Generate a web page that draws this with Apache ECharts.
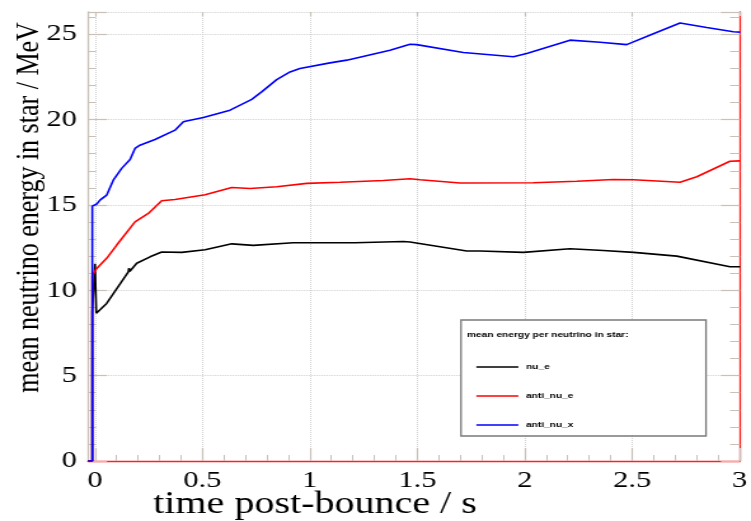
<!DOCTYPE html>
<html>
<head>
<meta charset="utf-8">
<script src="https://cdn.jsdelivr.net/npm/echarts@6/dist/echarts.min.js"></script>
<style>
  html, body { margin: 0; padding: 0; background: #fff; overflow: hidden; }
  /* the plot is laid out on a narrower canvas and widened horizontally */
  #chart { width: 591px; height: 521px; transform: scaleX(1.270728); transform-origin: 0 0; }
</style>
</head>
<body>
<div id="chart"></div>
<script>
// time post-bounce (s) and mean neutrino energy (MeV) for each species
const tNuE = [-0.0326, -0.0126, -0.0126, -0.003, 0.0, 0.006, 0.0126, 0.054, 0.155, 0.158, 0.161, 0.194, 0.256, 0.31, 0.403, 0.512, 0.636, 0.736, 0.922, 1.209, 1.434, 1.465, 1.729, 1.791, 1.992, 2.209, 2.364, 2.505, 2.706, 2.953, 3.0];
const eNuE = [0, 0, 8.74, 8.75, 11.55, 8.65, 8.68, 9.23, 11.08, 11.3, 11.1, 11.58, 11.96, 12.24, 12.22, 12.37, 12.72, 12.63, 12.78, 12.78, 12.86, 12.83, 12.3, 12.3, 12.22, 12.43, 12.33, 12.22, 12.0, 11.38, 11.38];

const tAntiNuE = [-0.0326, -0.0126, -0.0126, -0.008, 0.008, 0.054, 0.101, 0.186, 0.248, 0.31, 0.372, 0.512, 0.636, 0.721, 0.845, 0.985, 1.14, 1.341, 1.465, 1.512, 1.698, 2.039, 2.24, 2.411, 2.505, 2.721, 2.799, 2.953, 3.0];
const eAntiNuE = [0, 0, 10.85, 10.89, 11.28, 11.87, 12.65, 14.01, 14.5, 15.24, 15.32, 15.6, 16.02, 15.96, 16.06, 16.26, 16.33, 16.43, 16.53, 16.47, 16.28, 16.3, 16.39, 16.49, 16.47, 16.33, 16.65, 17.56, 17.58];

const tAntiNuX = [-0.0326, -0.0126, -0.0126, 0.008, 0.023, 0.054, 0.085, 0.124, 0.163, 0.186, 0.209, 0.279, 0.372, 0.411, 0.426, 0.504, 0.628, 0.729, 0.775, 0.845, 0.907, 0.953, 1.093, 1.171, 1.372, 1.465, 1.496, 1.713, 1.946, 2.008, 2.209, 2.349, 2.473, 2.597, 2.721, 2.845, 2.969, 3.0];
const eAntiNuX = [0, 0, 14.93, 15.05, 15.28, 15.57, 16.45, 17.14, 17.66, 18.31, 18.5, 18.83, 19.38, 19.87, 19.92, 20.12, 20.55, 21.18, 21.62, 22.34, 22.79, 22.99, 23.32, 23.48, 24.06, 24.41, 24.39, 23.93, 23.68, 23.87, 24.65, 24.53, 24.39, 25.03, 25.66, 25.39, 25.14, 25.12];

const seriesNames = ['nu_e', 'anti_nu_e', 'anti_nu_x'];
const seriesColors = ['#000000', '#ff0000', '#0000ff'];
const legendTitle = 'mean energy per neutrino in star:';
const xTitle = 'time post-bounce / s';
const yTitle = 'mean neutrino energy in star / MeV';

const X_MIN = -0.0326, X_MAX = 3, Y_MIN = 0, Y_MAX = 26.3;

// horizontal stretch applied to the whole canvas
const SX = 751 / 591;
const hx = v => v / SX;

const zip = (t, e) => t.map((v, i) => [v, e[i]]);

const tickGray = '#c9c1b9';
const gridGray = '#cfcfcf';
const serif = '"Liberation Serif", "Times New Roman", serif';
const sans = '"Liberation Sans", Arial, sans-serif';

const chart = echarts.init(document.getElementById('chart'), null, { renderer: 'canvas' });

chart.setOption({
  backgroundColor: '#ffffff',
  animation: false,
  grid: [
    { left: hx(88), right: hx(11), top: 12, bottom: 60 },
    { left: hx(95), right: hx(11), top: 12, bottom: 60 }
  ],
  xAxis: [
    {
      // data axis: frame line only
      type: 'value', gridIndex: 0, min: X_MIN, max: X_MAX,
      axisLine: { show: true, onZero: false, lineStyle: { color: '#ff2020', width: 1.3 } },
      axisTick: { show: false }, axisLabel: { show: false }, splitLine: { show: false }
    },
    {
      // labelled axis starting at t = 0
      type: 'value', gridIndex: 1, min: 0, max: 3, interval: 0.5, position: 'bottom',
      axisLine: { show: false, onZero: false },
      axisTick: { show: true, inside: true, length: 13, lineStyle: { color: tickGray, width: 1.2 } },
      minorTick: { show: true, splitNumber: 5, length: 6, lineStyle: { color: tickGray, width: 1 } },
      axisLabel: {
        show: true, margin: 8, color: '#000', fontFamily: serif, fontSize: 24,
        formatter: v => String(v)
      },
      splitLine: { show: true, lineStyle: { color: gridGray, type: 'dotted', width: 1 } }
    },
    {
      type: 'value', gridIndex: 1, min: 0, max: 3, interval: 0.5, position: 'top',
      axisLine: { show: false, onZero: false },
      axisTick: { show: true, inside: true, length: 4, lineStyle: { color: tickGray, width: 1.2 } },
      axisLabel: { show: false }, splitLine: { show: false }
    }
  ],
  yAxis: [
    {
      type: 'value', gridIndex: 0, min: Y_MIN, max: Y_MAX, interval: 5, position: 'left',
      axisLine: { show: true, onZero: false, lineStyle: { color: tickGray, width: 1.3 } },
      axisTick: { show: true, inside: true, length: hx(19), lineStyle: { color: tickGray, width: 1.2 } },
      minorTick: { show: true, splitNumber: 5, length: hx(8), lineStyle: { color: tickGray, width: 1 } },
      axisLabel: { show: true, margin: hx(11), color: '#000', fontFamily: serif, fontSize: 24 },
      splitLine: { show: true, lineStyle: { color: gridGray, type: 'dotted', width: 1 } }
    },
    {
      type: 'value', gridIndex: 0, min: Y_MIN, max: Y_MAX, interval: 5, position: 'right',
      axisLine: { show: true, onZero: false, lineStyle: { color: '#ff2020', width: 1.3 } },
      axisTick: { show: true, inside: true, length: hx(19), lineStyle: { color: tickGray, width: 1.2 } },
      minorTick: { show: true, splitNumber: 5, length: hx(10), lineStyle: { color: tickGray, width: 1 } },
      axisLabel: { show: false }, splitLine: { show: false }
    },
    {
      type: 'value', gridIndex: 1, min: Y_MIN, max: Y_MAX, show: false
    }
  ],
  legend: {
    orient: 'vertical',
    left: hx(470), top: 357,
    icon: 'rect',
    itemWidth: hx(42), itemHeight: 1.6, itemGap: 19,
    data: seriesNames,
    textStyle: {
      fontFamily: sans, fontWeight: 'bold', fontSize: 8, lineHeight: 10,
      color: '#000', padding: [0, 0, 0, 1]
    },
    z: 10
  },
  graphic: [
    {
      type: 'rect', z: 5,
      shape: { x: hx(461), y: 320, width: hx(706 - 461), height: 116 },
      style: { fill: '#ffffff', stroke: '#7a7a7a', lineWidth: 1.3 }
    },
    {
      type: 'text', z: 11, x: hx(467), y: 335,
      style: { text: legendTitle, font: 'bold 8px ' + sans, fill: '#000', textAlign: 'left', textVerticalAlign: 'middle' }
    },
    {
      type: 'text', z: 11, x: hx(315), y: 505,
      style: { text: xTitle, font: '31.5px ' + serif, fill: '#000', textAlign: 'center', textVerticalAlign: 'middle' }
    },
    {
      type: 'text', z: 11, x: hx(30), y: 207.5, rotation: Math.PI / 2,
      style: { text: yTitle, font: '26px ' + serif, fill: '#000', textAlign: 'center', textVerticalAlign: 'middle' }
    }
  ],
  series: [
    { name: seriesNames[0], data: zip(tNuE, eNuE) },
    { name: seriesNames[1], data: zip(tAntiNuE, eAntiNuE) },
    { name: seriesNames[2], data: zip(tAntiNuX, eAntiNuX) }
  ].map((s, i) => ({
    type: 'line', name: s.name, data: s.data,
    xAxisIndex: 0, yAxisIndex: 0,
    symbol: 'none', showSymbol: false, smooth: false,
    lineStyle: { color: seriesColors[i], width: 1.6 },
    itemStyle: { color: seriesColors[i] },
    z: 3 + i
  }))
});
</script>
</body>
</html>
